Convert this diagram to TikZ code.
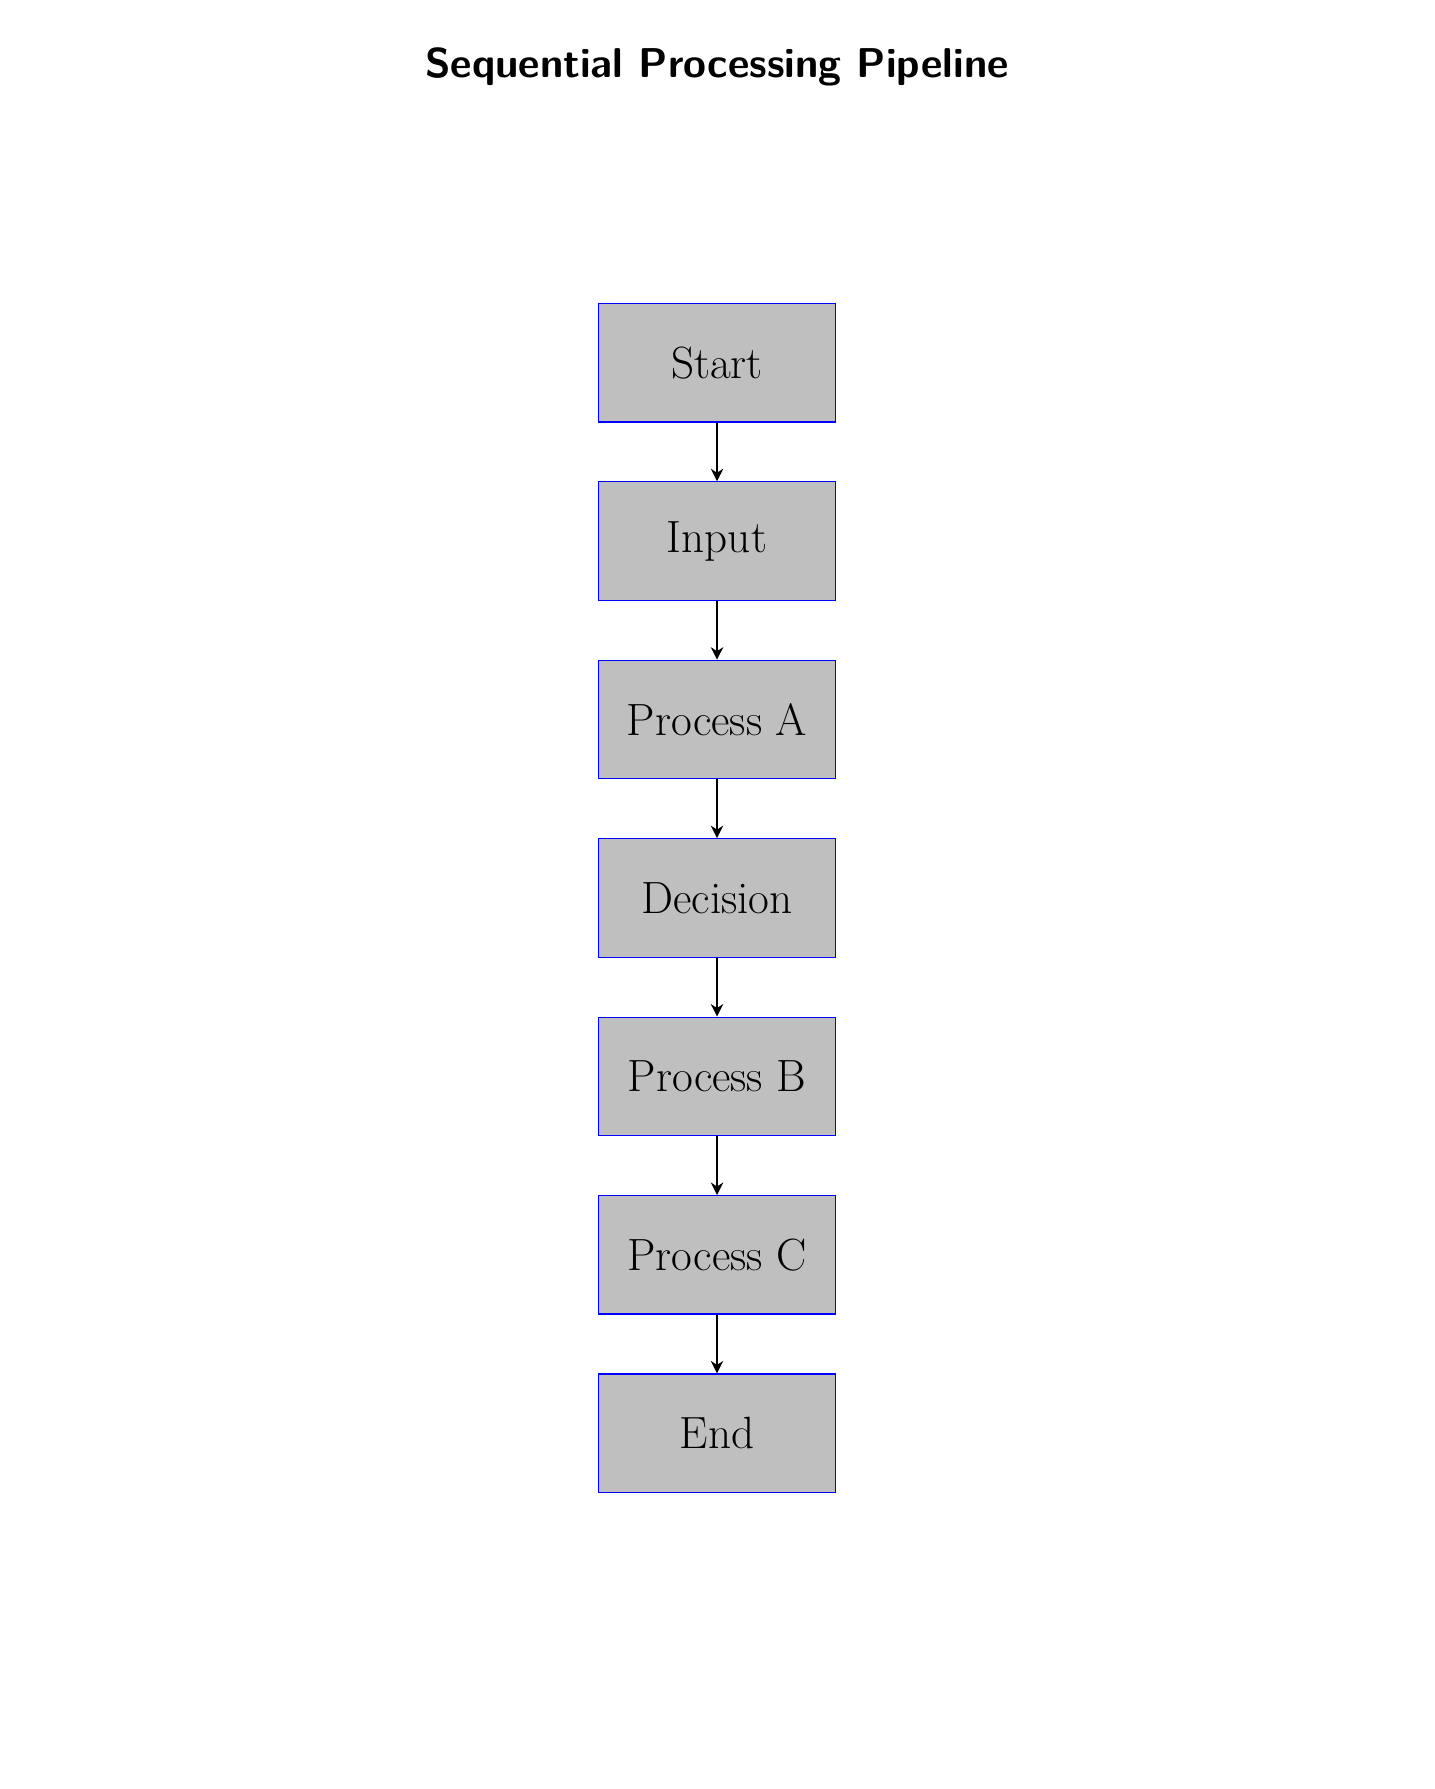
\documentclass[tikz,border=0pt]{standalone}
\usetikzlibrary{positioning,arrows.meta}
\tikzset{
  stepbox/.style={rectangle, draw=blue, semithick, fill=lightgray, minimum width=4cm, minimum height=2cm, font=\fontsize{21.7}{26}\selectfont},
  flow/.style={-{Stealth[length=6pt,width=6pt]}, semithick}
}
\begin{document}
\begin{tikzpicture}
\useasboundingbox (0,0) rectangle (24.2,-30.19);
\node[anchor=base, font=\fontsize{20}{24}\selectfont\sffamily\bfseries] (title) at (12.1,-1.30){Sequential Processing Pipeline};
\node[stepbox] (start) at (12.1,-6.12){Start};
\node[stepbox, below=0.99cm of start] (input){Input};
\node[stepbox, below=0.99cm of input] (procA){Process A};
\node[stepbox, below=0.99cm of procA] (decision){Decision};
\node[stepbox, below=0.99cm of decision] (procB){Process B};
\node[stepbox, below=0.99cm of procB] (procC){Process C};
\node[stepbox, below=0.99cm of procC] (stop){End};
\draw[flow](start) -- (input);
\draw[flow](input) -- (procA);
\draw[flow](procA) -- (decision);
\draw[flow](decision) -- (procB);
\draw[flow](procB) -- (procC);
\draw[flow](procC) -- (stop);
\end{tikzpicture}
\end{document}
